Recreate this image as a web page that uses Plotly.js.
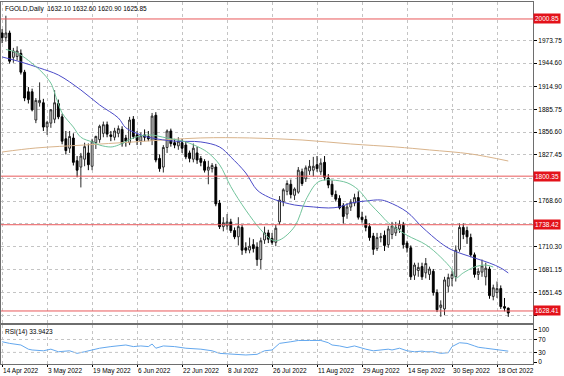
<!DOCTYPE html>
<html>
<head>
<meta charset="utf-8">
<script src="https://cdn.plot.ly/plotly-3.0.1.min.js"></script>
<style>html,body{margin:0;padding:0;background:#fff;}#chart{width:564px;height:376px;}</style>
</head>
<body>
<div id="chart"></div>
<script>
const dates = ['2022-04-14','2022-04-18','2022-04-19','2022-04-20','2022-04-21','2022-04-22','2022-04-25','2022-04-26','2022-04-27','2022-04-28','2022-04-29',
'2022-05-02','2022-05-03','2022-05-04','2022-05-05','2022-05-06','2022-05-09','2022-05-10','2022-05-11','2022-05-12','2022-05-13','2022-05-16','2022-05-17','2022-05-18','2022-05-19','2022-05-20','2022-05-23','2022-05-24','2022-05-25','2022-05-26','2022-05-27','2022-05-30','2022-05-31',
'2022-06-01','2022-06-02','2022-06-03','2022-06-06','2022-06-07','2022-06-08','2022-06-09','2022-06-10','2022-06-13','2022-06-14','2022-06-15','2022-06-16','2022-06-17','2022-06-20','2022-06-21','2022-06-22','2022-06-23','2022-06-24','2022-06-27','2022-06-28','2022-06-29','2022-06-30',
'2022-07-01','2022-07-04','2022-07-05','2022-07-06','2022-07-07','2022-07-08','2022-07-11','2022-07-12','2022-07-13','2022-07-14','2022-07-15','2022-07-18','2022-07-19','2022-07-20','2022-07-21','2022-07-22','2022-07-25','2022-07-26','2022-07-27','2022-07-28','2022-07-29',
'2022-08-01','2022-08-02','2022-08-03','2022-08-04','2022-08-05','2022-08-08','2022-08-09','2022-08-10','2022-08-11','2022-08-12','2022-08-15','2022-08-16','2022-08-17','2022-08-18','2022-08-19','2022-08-22','2022-08-23','2022-08-24','2022-08-25','2022-08-26','2022-08-29','2022-08-30','2022-08-31',
'2022-09-01','2022-09-02','2022-09-05','2022-09-06','2022-09-07','2022-09-08','2022-09-09','2022-09-12','2022-09-13','2022-09-14','2022-09-15','2022-09-16','2022-09-19','2022-09-20','2022-09-21','2022-09-22','2022-09-23','2022-09-26','2022-09-27','2022-09-28','2022-09-29','2022-09-30',
'2022-10-03','2022-10-04','2022-10-05','2022-10-06','2022-10-07','2022-10-10','2022-10-11','2022-10-12','2022-10-13','2022-10-14','2022-10-17','2022-10-18','2022-10-19','2022-10-20','2022-10-21'];

const open  = [1983,1977,1983,1952,1953,1957,1933,1908,1908,1872,1894,
1894,1863,1868,1873,1893,1876,1848,1836,1849,1820,1812,1822,1830,1813,1843,1847,1855,1866,1853,1850,1855,1860,
1849,1843,1873,1853,1845,1853,1851,1846,1878,1823,1812,1837,1858,1843,1839,1843,1840,1830,1822,1830,1823,1819,
1808,1810,1812,1766,1736,1737,1742,1731,1723,1735,1709,1706,1713,1710,1694,1719,1728,1721,1716,1742,1768,
1781,1790,1776,1780,1806,1797,1807,1808,1815,1806,1818,1798,1790,1777,1772,1763,1752,1761,1766,1773,1748,1745,1736,
1724,1708,1722,1725,1713,1726,1728,1733,1739,1715,1709,1674,1680,1685,1677,1675,1679,1652,1633,1631,1660,1670,
1672,1707,1735,1731,1722,1700,1675,1678,1672,1682,1647,1652,1657,1634,1632.10];
const high  = [1988,2005,1986,1964,1966,1962,1936,1914,1912,1900,1920,
1899,1871,1886,1910,1898,1880,1858,1858,1855,1826,1830,1843,1842,1848,1852,1866,1870,1870,1858,1862,1865,1864,
1853,1876,1877,1858,1856,1860,1858,1881,1882,1828,1840,1860,1861,1848,1850,1848,1845,1833,1842,1838,1826,1822,
1820,1817,1816,1770,1748,1752,1746,1735,1748,1738,1716,1722,1720,1716,1722,1736,1732,1728,1738,1775,1785,
1795,1796,1786,1812,1810,1814,1821,1825,1826,1823,1826,1803,1795,1782,1776,1766,1766,1771,1778,1781,1755,1750,1740,
1728,1728,1728,1731,1737,1742,1742,1744,1742,1718,1712,1690,1690,1690,1696,1685,1682,1656,1642,1672,1676,1680,
1712,1740,1740,1736,1727,1703,1683,1694,1690,1685,1662,1666,1661,1645,1632.60];
const low   = [1970,1972,1944,1945,1948,1930,1896,1893,1883,1868,1889,
1858,1853,1862,1868,1873,1841,1828,1830,1814,1799,1786,1813,1808,1808,1835,1843,1850,1850,1845,1846,1850,1838,
1838,1840,1848,1840,1840,1845,1845,1840,1818,1806,1805,1830,1838,1836,1834,1830,1822,1818,1818,1816,1813,1805,
1790,1805,1762,1733,1730,1732,1728,1720,1712,1700,1702,1702,1703,1686,1682,1714,1715,1713,1711,1738,1762,
1776,1772,1770,1778,1788,1793,1802,1800,1806,1802,1795,1785,1774,1768,1758,1740,1746,1756,1762,1745,1741,1730,1718,
1700,1705,1716,1705,1709,1720,1724,1728,1708,1703,1668,1668,1672,1668,1670,1668,1648,1627,1621,1623,1652,1660,
1666,1704,1720,1714,1697,1671,1668,1672,1661,1644,1642,1645,1631,1628,1620.90];
const close = [1977,1983,1947,1960,1960,1933,1900,1898,1885,1897,1897,
1863,1869,1885,1894,1876,1845,1833,1851,1818,1808,1826,1838,1815,1845,1851,1864,1866,1854,1851,1858,1861,1842,
1845,1872,1851,1846,1852,1850,1848,1877,1821,1810,1837,1858,1842,1840,1845,1836,1825,1823,1836,1821,1818,1808,
1812,1814,1765,1736,1741,1742,1731,1723,1736,1706,1706,1711,1708,1694,1718,1728,1720,1716,1734,1770,1783,
1791,1777,1784,1808,1791,1811,1813,1813,1810,1817,1799,1789,1777,1771,1760,1749,1761,1767,1773,1748,1745,1735,1722,
1707,1722,1723,1712,1733,1737,1735,1739,1713,1709,1672,1687,1684,1672,1689,1682,1652,1630,1636,1668,1671,1675,
1706,1735,1726,1723,1700,1675,1679,1686,1683,1648,1658,1657,1634,1632,1625.85];

const maFastDates = ['2022-04-18','2022-04-21','2022-04-29','2022-05-04','2022-05-05','2022-05-09','2022-05-12','2022-05-16','2022-05-19','2022-05-23','2022-05-26','2022-05-30','2022-06-03','2022-06-09','2022-06-16','2022-06-23','2022-06-29','2022-07-01','2022-07-06','2022-07-11','2022-07-15','2022-07-21','2022-07-26','2022-07-28','2022-08-03','2022-08-08','2022-08-11','2022-08-15','2022-08-17','2022-08-23','2022-08-26','2022-08-31','2022-09-05','2022-09-07','2022-09-14','2022-09-21','2022-09-27','2022-09-30','2022-10-03','2022-10-05','2022-10-10','2022-10-13','2022-10-17'];
const maFast = [1962,1957.5,1936,1919,1906.5,1881,1863,1850,1844,1840,1837.6,1840,1849,1853,1849,1844,1836,1830,1815,1787,1757,1732,1719,1719,1736,1770,1792,1795.5,1795.5,1792,1783,1766,1751,1741,1725,1713,1697,1681,1670.5,1677,1684.5,1687,1684.5];

const maMidDates = ['2022-04-14','2022-04-22','2022-04-29','2022-05-06','2022-05-16','2022-05-23','2022-05-30','2022-06-01','2022-06-07','2022-06-10','2022-06-20','2022-06-29','2022-07-06','2022-07-11','2022-07-15','2022-07-20','2022-07-25','2022-07-27','2022-08-03','2022-08-10','2022-08-16','2022-08-19','2022-08-24','2022-08-30','2022-09-05','2022-09-07','2022-09-14','2022-09-20','2022-09-27','2022-09-30','2022-10-10','2022-10-14','2022-10-19','2022-10-21'];
const maMid = [1952.4,1946,1938.3,1929.4,1910.3,1891.2,1874.6,1862,1853,1849,1845,1844,1837.6,1824.8,1804.4,1782.7,1773.8,1770,1763.6,1761.1,1759.8,1761.1,1766.1,1768.7,1770,1767.4,1754.7,1735.6,1715.1,1706.2,1696,1689.6,1683.3,1676.9];

const maSlowDates = ['2022-04-14','2022-04-28','2022-05-17','2022-06-03','2022-06-29','2022-07-18','2022-08-05','2022-08-24','2022-09-09','2022-09-22','2022-10-07','2022-10-21'];
const maSlow = [1831.2,1836.3,1840.1,1844.0,1849.1,1849.1,1846.5,1841.4,1837.6,1833.8,1828.7,1819.7];

const rsiDates = ['2022-04-14','2022-04-19','2022-04-22','2022-04-26','2022-04-27','2022-05-02','2022-05-04','2022-05-06','2022-05-11','2022-05-13','2022-05-17','2022-05-18','2022-05-23','2022-05-26','2022-05-30','2022-06-01','2022-06-03','2022-06-07','2022-06-09','2022-06-10','2022-06-13','2022-06-15','2022-06-20','2022-06-23','2022-06-29','2022-07-04','2022-07-06','2022-07-12','2022-07-15','2022-07-20','2022-07-22','2022-07-26','2022-07-28','2022-08-02','2022-08-04','2022-08-09','2022-08-12','2022-08-16','2022-08-17','2022-08-19','2022-08-23','2022-08-25','2022-08-26','2022-08-30','2022-09-01','2022-09-05','2022-09-07','2022-09-08','2022-09-12','2022-09-14','2022-09-16','2022-09-20','2022-09-21','2022-09-23','2022-09-27','2022-09-29','2022-09-30','2022-10-04','2022-10-06','2022-10-10','2022-10-11','2022-10-13','2022-10-17','2022-10-19','2022-10-21'];
const rsi = [63,58,53,40,37.5,35,40,32,35,27,32,35,43,48,50,53,48,50,48,56,43,50,48,43,40,35,27,24,22,24,35,37.5,58,63,67,67,67,60,53,50,45,50,46,40,35,37.5,40,37.5,43,35,32,34,32,32,27,29,48,60,58,50,46,43,40,37.5,33.94];

const tickDates = ['2022-04-14','2022-05-03','2022-05-19','2022-06-06','2022-06-22','2022-07-08','2022-07-26','2022-08-11','2022-08-29','2022-09-14','2022-09-30','2022-10-18'];
const tickLabels = ['14 Apr 2022','3 May 2022','19 May 2022','6 Jun 2022','22 Jun 2022','8 Jul 2022','26 Jul 2022','11 Aug 2022','29 Aug 2022','14 Sep 2022','30 Sep 2022','18 Oct 2022'];
const priceTicks = [1622.25,1651.45,1681.15,1710.30,1739.45,1768.60,1797.75,1827.45,1856.60,1885.75,1914.90,1944.60,1973.75];
const priceTickLabels = ['','1651.45','1681.15','1710.30','','1768.60','','1827.45','1856.60','1885.75','1914.90','1944.60','1973.75'];
const redLevels = [2000.85,1800.35,1738.42,1628.41];
const rsiTicks = [0,30,70,100];
const rsiLevels = [30,70];
const symbolTitle = 'FGOLD,Daily  1632.10 1632.60 1620.90 1625.85';
const rsiTitle = 'RSI(14) 33.9423';

const pos = d => dates.indexOf(d);
const xs = dates.map(pos);
const gridCol = '#c4c4c4';
const FONT = 'Liberation Sans, Arial, sans-serif';

const traces = [
  {type:'candlestick', x:xs, open:open, high:high, low:low, close:close, xaxis:'x', yaxis:'y',
   increasing:{line:{color:'#2a2a2a', width:1}, fillcolor:'#ffffff'},
   decreasing:{line:{color:'#000000', width:1}, fillcolor:'#000000'},
   whiskerwidth:0, hoverinfo:'skip'},
  {type:'scatter', mode:'lines', x:maSlowDates.map(pos), y:maSlow, line:{color:'#d9b48c', width:1, shape:'spline'}, xaxis:'x', yaxis:'y', hoverinfo:'skip'},
  {type:'scatter', mode:'lines', x:maMidDates.map(pos), y:maMid, line:{color:'#4b4bc8', width:1, shape:'spline'}, xaxis:'x', yaxis:'y', hoverinfo:'skip'},
  {type:'scatter', mode:'lines', x:maFastDates.map(pos), y:maFast, line:{color:'#72c49c', width:1, shape:'spline'}, xaxis:'x', yaxis:'y', hoverinfo:'skip'},
  {type:'scatter', mode:'lines', x:rsiDates.map(pos), y:rsi, line:{color:'#64a8ee', width:1}, xaxis:'x2', yaxis:'y2', hoverinfo:'skip'}
];

const shapes = redLevels.map(v => ({type:'line', xref:'paper', x0:0, x1:1, yref:'y', y0:v, y1:v, line:{color:'#e8585a', width:1}}))
  .concat(rsiLevels.map(v => ({type:'line', xref:'paper', x0:0, x1:1, yref:'y2', y0:v, y1:v, line:{color:gridCol, width:1, dash:'dot'}})));

const annotations = redLevels.map(v => ({xref:'paper', x:1, xanchor:'left', xshift:0, yref:'y', y:v, yanchor:'middle',
   text:v.toFixed(2), showarrow:false, bgcolor:'#e3121a', borderpad:1, font:{family:FONT, size:6.5, color:'#ffffff'}}))
 .concat([
  {xref:'paper', yref:'paper', x:0, y:1, xanchor:'left', yanchor:'top', xshift:2, yshift:-1, text:symbolTitle, showarrow:false, font:{family:FONT, size:6.5, color:'#000'}},
  {xref:'paper', yref:'y2', x:0, y:94, xanchor:'left', yanchor:'middle', xshift:2, text:rsiTitle, showarrow:false, font:{family:FONT, size:6.5, color:'#000'}}
 ]);

const axisCommon = {showline:true, mirror:true, linecolor:'#6e6e6e', linewidth:1, zeroline:false, showgrid:true, gridcolor:gridCol, griddash:'dot', gridwidth:1};

const layout = {
  width:564, height:376,
  margin:{l:1, r:31, t:2, b:12},
  paper_bgcolor:'#ffffff', plot_bgcolor:'#ffffff',
  showlegend:false,
  font:{family:FONT, size:6.5, color:'#000'},
  xaxis: Object.assign({}, axisCommon, {type:'linear', anchor:'y', domain:[0,1], range:[-0.3,141.6], tickvals:tickDates.map(pos), ticktext:tickLabels, showticklabels:false, ticks:'', rangeslider:{visible:false}}),
  yaxis: Object.assign({}, axisCommon, {anchor:'x', domain:[0.1133,1], side:'right', range:[1613.1,2022.5], tickvals:priceTicks, ticktext:priceTickLabels, ticks:'outside', ticklen:3, tickcolor:'#000', tickfont:{family:FONT, size:6.5}}),
  xaxis2: Object.assign({}, axisCommon, {type:'linear', anchor:'y2', domain:[0,1], range:[-0.3,141.6], tickvals:tickDates.map(pos), ticktext:tickLabels, tickangle:0, ticks:'outside', ticklen:2, tickcolor:'#000', ticklabelposition:'outside right', tickfont:{family:FONT, size:6.5}}),
  yaxis2: Object.assign({}, axisCommon, {anchor:'x2', domain:[0,0.1077], side:'right', range:[-6,115], tickvals:rsiTicks, ticktext:rsiTicks.map(String), showgrid:false, ticks:'outside', ticklen:3, tickcolor:'#000', tickfont:{family:FONT, size:6.5}}),
  shapes:shapes,
  annotations:annotations
};

Plotly.newPlot('chart', traces, layout, {displayModeBar:false, staticPlot:true});
</script>
</body>
</html>
